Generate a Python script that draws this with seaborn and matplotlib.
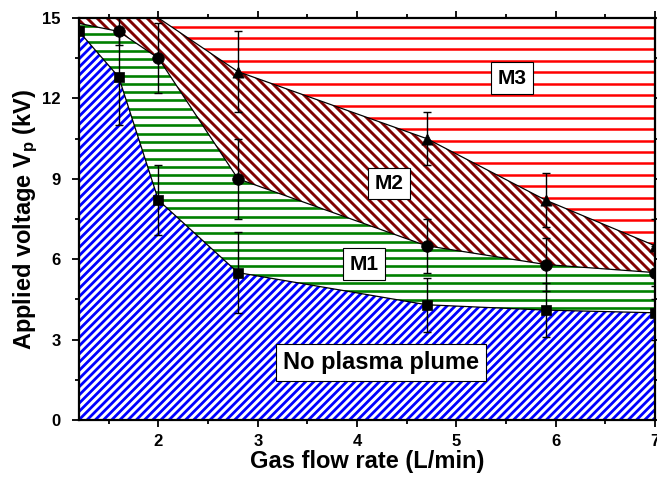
import numpy as np
import pandas as pd
import matplotlib
matplotlib.use("Agg")
import matplotlib.pyplot as plt
import seaborn as sns
from matplotlib.collections import LineCollection
from matplotlib.ticker import MultipleLocator

# ---------------- data ----------------
flow_sq = [1.2, 1.6, 2.0, 2.8, 4.7, 5.9, 7.0]        # onset of plasma (squares)
v_sq = [14.5, 12.8, 8.2, 5.5, 4.3, 4.1, 4.0]
err_sq = [0.0, 1.8, 1.3, 1.5, 1.0, 1.0, 1.0]

flow_ci = [1.2, 1.6, 2.0, 2.8, 4.7, 5.9, 7.0]        # M1 / M2 boundary (circles)
v_ci = [14.8, 14.5, 13.5, 9.0, 6.5, 5.8, 5.5]
err_ci = [0.0, 0.5, 1.3, 1.5, 1.0, 1.0, 1.0]

flow_tr = [1.2, 2.0, 2.8, 4.7, 5.9, 7.0]             # M2 / M3 boundary (triangles)
v_tr = [15.0, 15.0, 13.0, 10.5, 8.2, 6.5]
err_tr = [0.0, 0.0, 1.5, 1.0, 1.0, 1.0]

x_min, x_max = 1.2, 7.0
y_min, y_max = 0.0, 15.0
x_ticks = [2, 3, 4, 5, 6, 7]
y_ticks = [0, 3, 6, 9, 12, 15]

region_labels = ["No plasma plume", "M1", "M2", "M3"]
label_x = [4.24, 4.07, 4.32, 5.56]
label_y = [2.13, 5.82, 8.82, 12.76]
label_size = [17, 15, 15, 15]

# ---------------- style ----------------
sns.set_theme(style="ticks")
plt.rcParams['font.family'] = ['Liberation Sans', 'DejaVu Sans']
plt.rcParams['mathtext.fontset'] = 'custom'
plt.rcParams['mathtext.rm'] = 'Liberation Sans'
plt.rcParams['mathtext.bf'] = 'Liberation Sans:bold'
plt.rcParams['mathtext.it'] = 'Liberation Sans:italic'
for key in ['text.color', 'axes.labelcolor', 'xtick.color', 'ytick.color',
            'axes.edgecolor']:
    plt.rcParams[key] = 'black'

fig = plt.figure(figsize=(6.57, 4.87), dpi=100)
AX_POS = [0.1202, 0.1376, 0.877, 0.8254]
ax = fig.add_axes(AX_POS)
AX_W = 6.57 * 100 * AX_POS[2]
AX_H = 4.87 * 100 * AX_POS[3]


def hatch_segments(kind, spacing):
    segs = []
    if kind == '-':
        y = spacing / 2
        while y < AX_H:
            segs.append([(0, y / AX_H), (1, y / AX_H)])
            y += spacing
    elif kind == '/':
        c = -AX_H
        while c < AX_W:
            segs.append([(c / AX_W, 0), ((c + AX_H) / AX_W, 1)])
            c += spacing
    else:
        c = 0
        while c < AX_W + AX_H:
            segs.append([(c / AX_W, 0), ((c - AX_H) / AX_W, 1)])
            c += spacing
    return segs


def hatched_region(xs, ys, color, kind, spacing, lw):
    patch = ax.fill(xs, ys, facecolor='white', edgecolor='none', zorder=1)[0]
    lc = LineCollection(hatch_segments(kind, spacing), colors=color,
                        linewidths=lw, transform=ax.transAxes, zorder=1.2)
    ax.add_collection(lc, autolim=False)
    lc.set_clip_path(patch)


# regions
hatched_region(flow_sq + [x_max, x_min], v_sq + [y_min, y_min],
               '#0000FF', '/', 8.2, 2.0)
hatched_region(flow_sq + flow_ci[::-1], v_sq + v_ci[::-1],
               '#008000', '-', 8.3, 1.9)
hatched_region(flow_ci + flow_tr[::-1], v_ci + v_tr[::-1],
               '#800000', '\\', 10.0, 2.1)
hatched_region(flow_tr + [x_max, x_min], v_tr + [y_max, y_max],
               '#FF0000', '-', 11.4, 1.8)

# boundary lines
for fx, fy in [(flow_sq, v_sq), (flow_ci, v_ci), (flow_tr, v_tr)]:
    sns.lineplot(x=fx, y=fy, color='black', lw=0.9, ax=ax,
                 estimator=None, sort=False, zorder=2)

# error bars
for fx, fy, fe in [(flow_sq, v_sq, err_sq), (flow_ci, v_ci, err_ci), (flow_tr, v_tr, err_tr)]:
    fx, fy, fe = np.array(fx), np.array(fy), np.array(fe)
    m = fe > 0
    ax.errorbar(fx[m], fy[m], yerr=fe[m], fmt='none', ecolor='black',
                elinewidth=1.0, capsize=3, capthick=1.0, zorder=3)

# markers
for fx, fy, mk, size in [(flow_sq, v_sq, 's', 45), (flow_ci, v_ci, 'o', 70), (flow_tr, v_tr, '^', 65)]:
    df = pd.DataFrame({'flow': fx, 'v': fy})
    df = df[df['v'] < 14.7]
    sns.scatterplot(data=df, x='flow', y='v', marker=mk, s=size, color='black',
                    edgecolor='black', linewidth=0.5, ax=ax, zorder=4, legend=False)

# labels in boxes
for t, tx, ty, fs in zip(region_labels, label_x, label_y, label_size):
    ax.text(tx, ty, t, ha='center', va='center', fontsize=fs, fontweight='bold',
            color='black', zorder=6,
            bbox=dict(boxstyle='square,pad=0.3', fc='white', ec='black', lw=0.8))

ax.set_xlim(x_min, x_max)
ax.set_ylim(y_min, y_max)
ax.set_xticks(x_ticks)
ax.set_yticks(y_ticks)
ax.xaxis.set_minor_locator(MultipleLocator(0.5))
ax.yaxis.set_minor_locator(MultipleLocator(1.5))
ax.tick_params(which='both', direction='out', top=True, right=True,
               width=1.3, color='black', labelsize=12)
ax.tick_params(which='major', length=5)
ax.tick_params(which='minor', length=3)
ax.tick_params(axis='x', pad=5)
ax.tick_params(axis='y', pad=8)
for lab in ax.get_xticklabels() + ax.get_yticklabels():
    lab.set_fontweight('bold')
for sp in ax.spines.values():
    sp.set_linewidth(1.6)
    sp.set_color('black')
    sp.set_zorder(10)

ax.set_xlabel('Gas flow rate (L/min)', fontsize=17, fontweight='bold', labelpad=1)
ax.set_ylabel(r'Applied voltage V$_{\mathbf{p}}$ (kV)', fontsize=17,
              fontweight='bold', labelpad=2)

fig.savefig('out.png', dpi=100)
